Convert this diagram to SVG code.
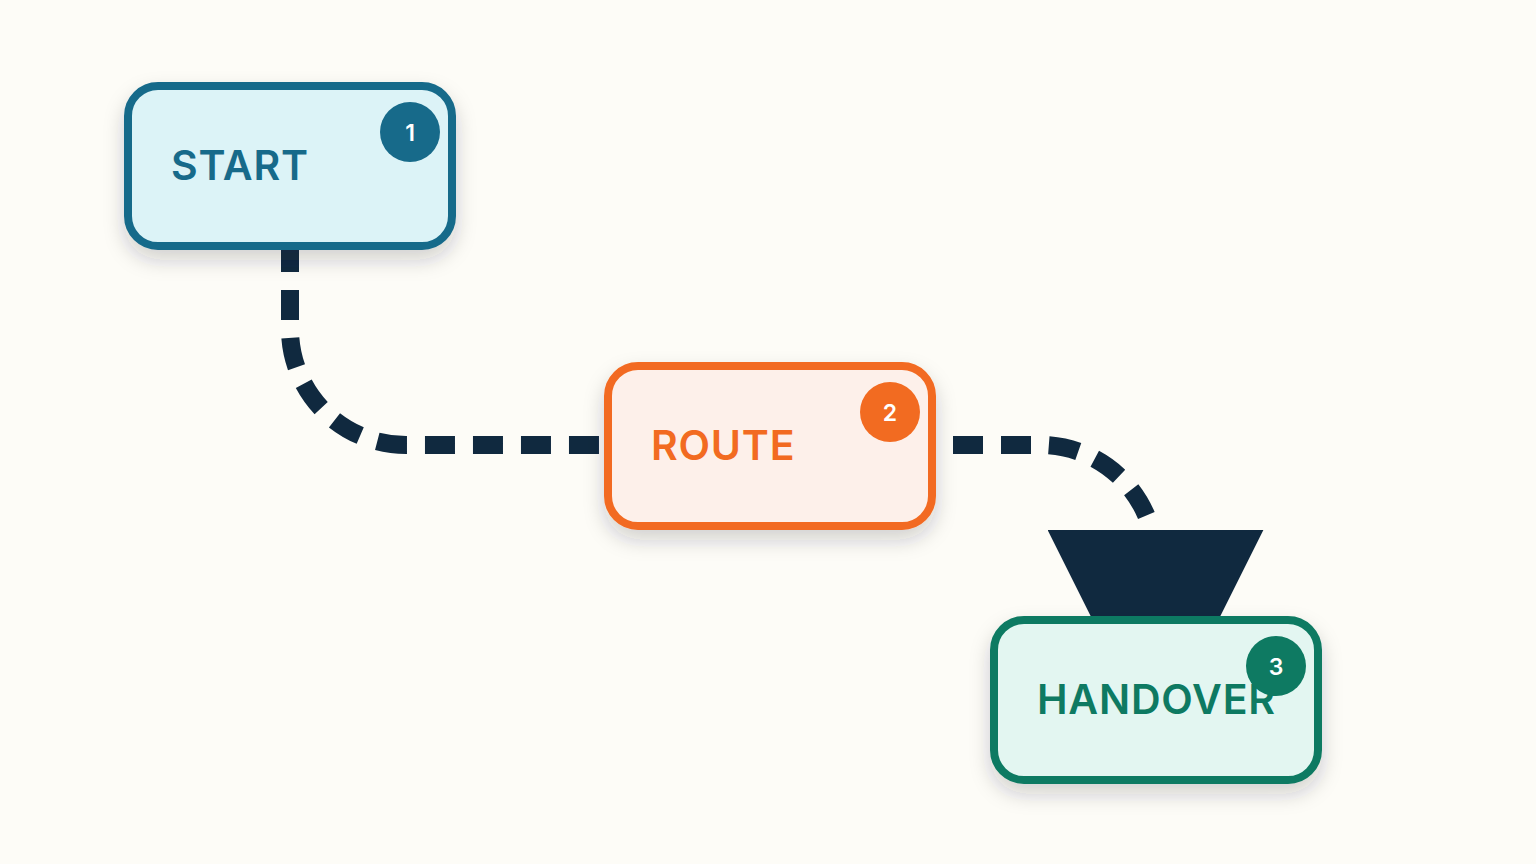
<svg xmlns="http://www.w3.org/2000/svg" width="1536" height="864" viewBox="0 0 1536 864">
  <defs>
    <filter id="shadow" x="-20%" y="-20%" width="140%" height="160%">
      <feDropShadow dx="0" dy="10" stdDeviation="10" flood-color="#1b2a3a" flood-opacity="0.2"/>
    </filter>
    <marker id="arrow" viewBox="0 0 12 12" refX="4.9" refY="6" markerWidth="12" markerHeight="12" orient="auto" markerUnits="strokeWidth">
      <path d="M0,0 L12,6 L0,12 Z" fill="#10293f"/>
    </marker>
  </defs>
  <style>
    .edge { fill: none; stroke: #10293f; stroke-width: 18; stroke-dasharray: 30 18; stroke-linecap: butt; }
    .box { stroke-width: 8; filter: url(#shadow); }
    .label { font-family: Inter, "Liberation Sans", sans-serif; font-size: 41px; font-weight: 600; letter-spacing: 0.8px; }
    .badge-text { font-family: Inter, "Liberation Sans", sans-serif; font-size: 23px; font-weight: 600; fill: #ffffff; text-anchor: middle; }
    .n1 .box { fill: #dcf3f7; stroke: #176a8a; }
    .n1 .label { fill: #176a8a; }
    .n1 .badge { fill: #176a8a; }
    .n2 .box { fill: #fdf0ea; stroke: #f26b21; }
    .n2 .label { fill: #f26b21; }
    .n2 .badge { fill: #f26b21; }
    .n3 .box { fill: #e3f6f1; stroke: #0e7a62; }
    .n3 .label { fill: #0e7a62; }
    .n3 .badge { fill: #0e7a62; }
  </style>
  <rect width="1536" height="864" fill="#fdfcf7"/>
  <g id="connectors">
    <path class="edge" d="M290,242 L290,329 A116,116 0 0 0 406,445 L605,445"/>
    <path class="edge" d="M905,445 L1040,445 A115.5,115.5 0 0 1 1155.5,560.5 L1155.5,618" marker-end="url(#arrow)"/>
  </g>
  <g id="node-start" class="n1">
    <rect class="box" x="128" y="86" width="324" height="160" rx="30"/>
    <text class="label" x="171" y="180">START</text>
    <circle class="badge" cx="410" cy="132" r="30"/>
    <text class="badge-text" x="410" y="141">1</text>
  </g>
  <g id="node-route" class="n2">
    <rect class="box" x="608" y="366" width="324" height="160" rx="30"/>
    <text class="label" x="651" y="460">ROUTE</text>
    <circle class="badge" cx="890" cy="412" r="30"/>
    <text class="badge-text" x="890" y="421">2</text>
  </g>
  <g id="node-handover" class="n3">
    <rect class="box" x="994" y="620" width="324" height="160" rx="30"/>
    <text class="label" x="1037" y="714">HANDOVER</text>
    <circle class="badge" cx="1276" cy="666" r="30"/>
    <text class="badge-text" x="1276" y="675">3</text>
  </g>
</svg>
